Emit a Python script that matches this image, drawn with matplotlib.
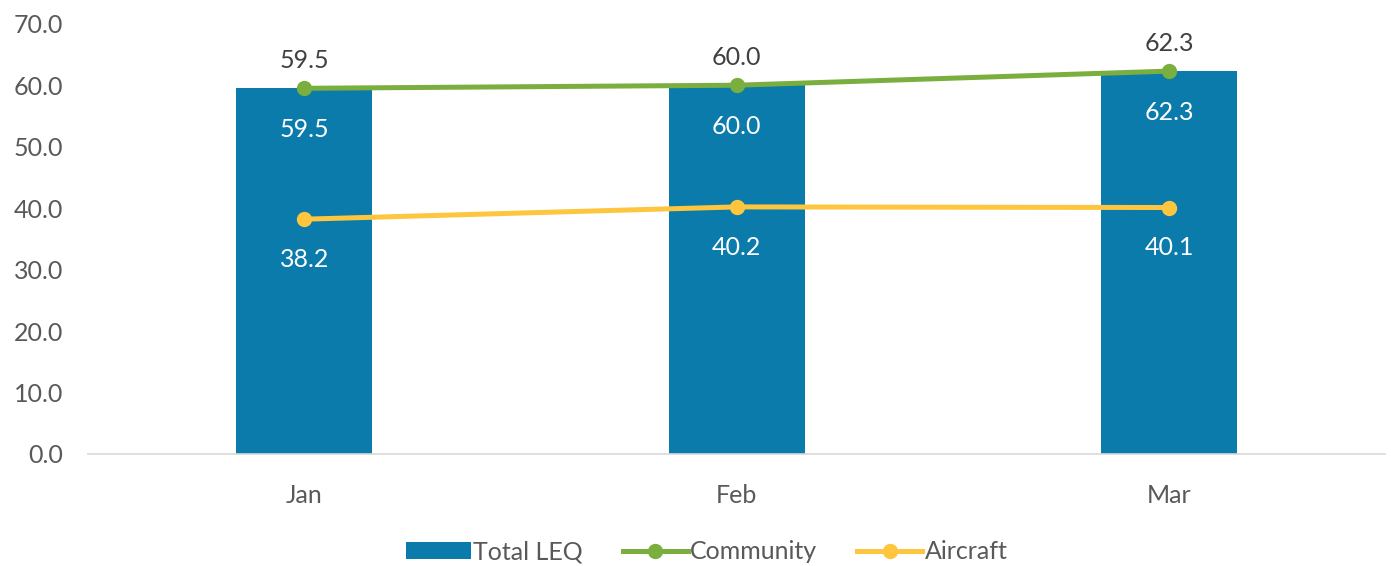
import matplotlib.pyplot as plt
import numpy as np

months = ['Jan', 'Feb', 'Mar']
total_leq = [59.5, 60.0, 62.3]
community = [59.5, 60.0, 62.3]
aircraft = [38.2, 40.2, 40.1]

plt.rcParams['font.family'] = ['Lato', 'DejaVu Sans']

fig = plt.figure(figsize=(13.91, 5.66), dpi=100)
ax = fig.add_axes([0.0633, 0.198, 0.9327, 0.760])

x = np.arange(len(months))
b = ax.bar(x, total_leq, width=0.3135, color='#0a7bab', label='Total LEQ', zorder=2)
l1, = ax.plot(x, community, color='#7aaf3f', lw=3.6, marker='o', ms=10, label='Community', zorder=3)
l2, = ax.plot(x, aircraft, color='#fec63f', lw=3.6, marker='o', ms=10, label='Aircraft', zorder=3)

txt = '#404040'
for i in range(len(months)):
    ax.annotate(f'{total_leq[i]:.1f}', (x[i], total_leq[i]), xytext=(0, -30),
                textcoords='offset points', ha='center', va='center', color='white', fontsize=18)
    ax.annotate(f'{community[i]:.1f}', (x[i], community[i]), xytext=(0, 20),
                textcoords='offset points', ha='center', va='center', color=txt, fontsize=18)
    ax.annotate(f'{aircraft[i]:.1f}', (x[i], aircraft[i]), xytext=(0, -29),
                textcoords='offset points', ha='center', va='center', color='white', fontsize=18)

ax.set_xlim(-0.5, 2.5)
ax.set_ylim(0, 70)
ax.set_yticks(np.arange(0, 71, 10))
ax.set_yticklabels([f'{v:.1f}' for v in np.arange(0, 71, 10)])
ax.set_xticks(x)
ax.set_xticklabels(months)
ax.tick_params(axis='both', length=0, labelsize=18, colors='#595959')
ax.tick_params(axis='x', pad=22)
ax.tick_params(axis='y', pad=18)
for s in ['top', 'right', 'left']:
    ax.spines[s].set_visible(False)
ax.spines['bottom'].set_color('#d9d9d9')
ax.spines['bottom'].set_linewidth(1.2)

leg = fig.legend([b, l1, l2], ['Total LEQ', 'Community', 'Aircraft'],
                 loc='lower center', bbox_to_anchor=(0.508, -0.035), ncol=3, frameon=False,
                 fontsize=18, handlelength=2.6, handletextpad=0.1, columnspacing=1.6)
for t in leg.get_texts():
    t.set_color('#595959')

fig.savefig('out.png', dpi=100)
